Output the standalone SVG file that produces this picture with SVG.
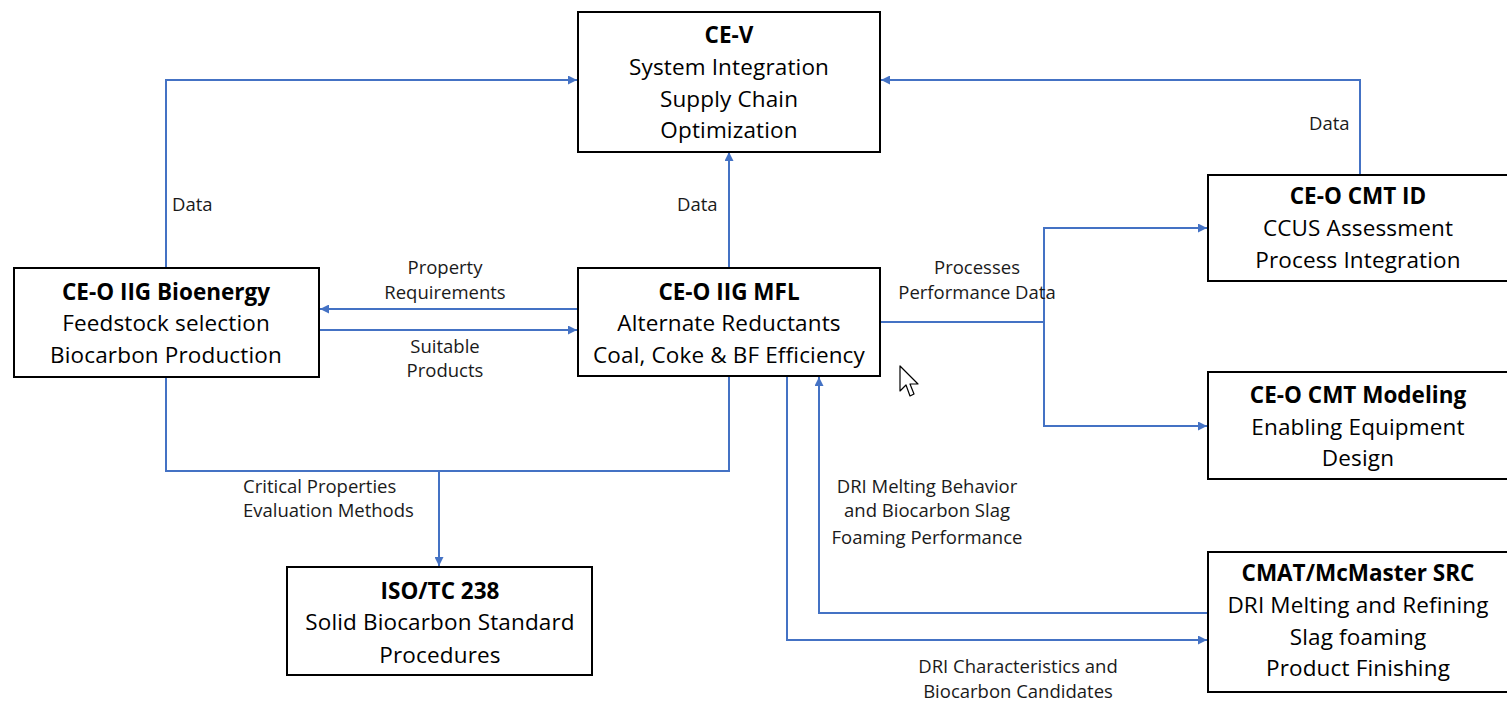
<svg xmlns="http://www.w3.org/2000/svg" width="1507" height="701" viewBox="0 0 1507 701">
<style>
.box{fill:#fff;stroke:#000;stroke-width:2}
.t{font-family:"Open Sans","Liberation Sans",sans-serif;font-size:22.5px;fill:#000;text-anchor:middle;letter-spacing:0.15px}
.b{font-weight:bold;letter-spacing:0}
.lbl{font-family:"Open Sans","Liberation Sans",sans-serif;font-size:18.5px;fill:#1a1a1a}
.c{text-anchor:middle}
.ln{fill:none;stroke:#4472C4;stroke-width:2}
.ar{marker-end:url(#ah)}
</style>
<defs>
<marker id="ah" markerUnits="userSpaceOnUse" markerWidth="10" markerHeight="9" refX="9" refY="4.5" orient="auto">
<path d="M0,0 L9,4.5 L0,9 z" fill="#4472C4"/>
</marker>
</defs>
<rect width="1507" height="701" fill="#fff"/>
<g id="connectors">
<path class="ln ar" d="M166,268 V80 H577"/>
<path class="ln ar" d="M1360,175 V80 H881"/>
<path class="ln ar" d="M729,268 V152"/>
<path class="ln ar" d="M578,309 H320"/>
<path class="ln ar" d="M320,330 H577"/>
<path class="ln" d="M881,322 H1044"/>
<path class="ln ar" d="M1044,322 V228 H1207"/>
<path class="ln ar" d="M1044,322 V426 H1207"/>
<path class="ln ar" d="M1208,613 H819 V377"/>
<path class="ln ar" d="M787,377 V640 H1207"/>
<path class="ln" d="M166,377 V471 H729 V377"/>
<path class="ln ar" d="M439,471 V566"/>
<text class="lbl" x="172" y="211">Data</text>
<text class="lbl" x="677" y="211">Data</text>
<text class="lbl" x="1309" y="130">Data</text>
<text class="lbl c" x="445" y="274">Property</text>
<text class="lbl c" x="445" y="299">Requirements</text>
<text class="lbl c" x="445" y="353">Suitable</text>
<text class="lbl c" x="445" y="377">Products</text>
<text class="lbl c" x="977" y="274">Processes</text>
<text class="lbl c" x="977" y="299">Performance Data</text>
<text class="lbl" x="243" y="493">Critical Properties</text>
<text class="lbl" x="243" y="517">Evaluation Methods</text>
<text class="lbl c" x="927" y="493">DRI Melting Behavior</text>
<text class="lbl c" x="927" y="517">and Biocarbon Slag</text>
<text class="lbl c" x="927" y="544">Foaming Performance</text>
<text class="lbl c" x="1018" y="673">DRI Characteristics and</text>
<text class="lbl c" x="1018" y="698">Biocarbon Candidates</text>
</g>
<g id="ce-v">
<rect class="box" x="578" y="12" width="302" height="140"/>
<text class="t b" x="729" y="43">CE-V</text>
<text class="t" x="729" y="75">System Integration</text>
<text class="t" x="729" y="107">Supply Chain</text>
<text class="t" x="729" y="138">Optimization</text>
</g>
<g id="bioenergy">
<rect class="box" x="14" y="268" width="305" height="109"/>
<text class="t b" x="166" y="300">CE-O IIG Bioenergy</text>
<text class="t" x="166" y="331">Feedstock selection</text>
<text class="t" x="166" y="363">Biocarbon Production</text>
</g>
<g id="mfl">
<rect class="box" x="578" y="268" width="302" height="108"/>
<text class="t b" x="729" y="300">CE-O IIG MFL</text>
<text class="t" x="729" y="331">Alternate Reductants</text>
<text class="t" x="729" y="363">Coal, Coke &amp; BF Efficiency</text>
</g>
<g id="cmt-id">
<rect class="box" x="1208" y="175" width="302" height="106"/>
<text class="t b" x="1358" y="204">CE-O CMT ID</text>
<text class="t" x="1358" y="236">CCUS Assessment</text>
<text class="t" x="1358" y="268">Process Integration</text>
</g>
<g id="cmt-modeling">
<rect class="box" x="1208" y="372" width="302" height="107"/>
<text class="t b" x="1358" y="403">CE-O CMT Modeling</text>
<text class="t" x="1358" y="435">Enabling Equipment</text>
<text class="t" x="1358" y="466">Design</text>
</g>
<g id="cmat">
<rect class="box" x="1208" y="552" width="302" height="140"/>
<text class="t b" x="1358" y="581">CMAT/McMaster SRC</text>
<text class="t" x="1358" y="613">DRI Melting and Refining</text>
<text class="t" x="1358" y="645">Slag foaming</text>
<text class="t" x="1358" y="676">Product Finishing</text>
</g>
<g id="iso">
<rect class="box" x="287" y="567" width="305" height="108"/>
<text class="t b" x="440" y="599">ISO/TC 238</text>
<text class="t" x="440" y="630">Solid Biocarbon Standard</text>
<text class="t" x="440" y="663">Procedures</text>
</g>
<g id="cursor">
<path d="M900,366 L900,391 L906,385 L910,396 L914,394 L910,384 L918,384 Z" fill="#fff" stroke="#000" stroke-width="1.2" stroke-linejoin="round"/>
</g>
</svg>
